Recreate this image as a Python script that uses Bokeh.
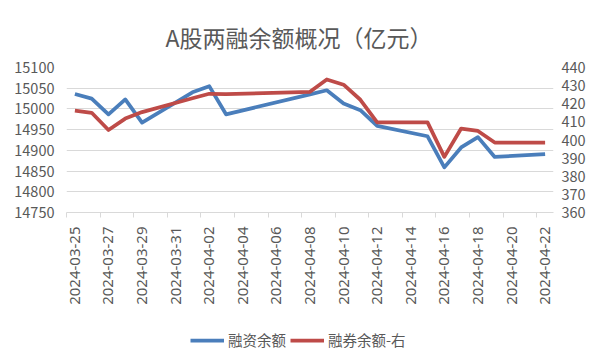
import math
import pandas as pd
from bokeh.plotting import figure
from bokeh.layouts import column
from bokeh.models import (Range1d, LinearAxis, FixedTicker, DatetimeTickFormatter,
                          Legend, LegendItem, ColumnDataSource)
from bokeh.embed import file_html
from bokeh.resources import INLINE

# ---- data ----
dates = ["2024-03-25", "2024-03-26", "2024-03-27", "2024-03-28", "2024-03-29",
         "2024-04-01", "2024-04-02", "2024-04-03", "2024-04-08", "2024-04-09",
         "2024-04-10", "2024-04-11", "2024-04-12", "2024-04-15", "2024-04-16",
         "2024-04-17", "2024-04-18", "2024-04-19", "2024-04-22"]
margin_balance = [15036, 15025, 14987, 15023, 14967,
                  15040, 15055, 14987, 15035, 15045,
                  15013, 14997, 14959, 14934, 14859,
                  14907, 14932, 14884, 14891]
short_balance = [416.2, 415.0, 405.5, 411.8, 415.4,
                 423.0, 425.5, 425.3, 426.6, 433.4,
                 430.5, 422.2, 409.7, 409.7, 390.7,
                 406.3, 405.0, 398.6, 398.6]
tick_labels = ["2024-03-25", "2024-03-27", "2024-03-29", "2024-03-31", "2024-04-02",
               "2024-04-04", "2024-04-06", "2024-04-08", "2024-04-10", "2024-04-12",
               "2024-04-14", "2024-04-16", "2024-04-18", "2024-04-20", "2024-04-22"]
left_ticks = [14750, 14800, 14850, 14900, 14950, 15000, 15050, 15100]
right_ticks = [360, 370, 380, 390, 400, 410, 420, 430, 440]
title_text = "A股两融余额概况（亿元）"
series_names = ["融资余额", "融券余额-右"]

FONT = "Noto Sans CJK SC"
LATIN = "Noto Sans"
TXT = "#595959"
GRID = "#D9D9D9"
BLUE = "#4A7EBB"
RED = "#BE4B48"
FS = "14.5px"
W = 601

HALF_DAY = pd.Timedelta(hours=12)
x = pd.to_datetime(dates) + HALF_DAY
src = ColumnDataSource(dict(x=x, rz=margin_balance, rq=short_balance))

x_start = pd.Timestamp(tick_labels[0])
x_end = pd.Timestamp(dates[-1]) + pd.Timedelta(days=1)

p = figure(x_axis_type="datetime", output_backend="svg", toolbar_location=None,
           frame_width=487, frame_height=145,
           min_border_left=66, min_border_right=W - 66 - 487, min_border_top=67,
           min_border_bottom=110,
           x_range=Range1d(x_start, x_end),
           y_range=Range1d(left_ticks[0], left_ticks[-1]))
p.outline_line_color = None
p.background_fill_color = "white"
p.border_fill_color = "white"

p.title.text = title_text
p.title.align = "left"
p.title.offset = 99
p.title.text_font = FONT
p.title.text_font_size = "23px"
p.title.text_font_style = "normal"
p.title.text_color = TXT
p.title.standoff = 28

p.extra_y_ranges = {"right": Range1d(right_ticks[0], right_ticks[-1])}

r1 = p.line("x", "rz", source=src, line_color=BLUE, line_width=3.75, line_join="round")
r2 = p.line("x", "rq", source=src, line_color=RED, line_width=3.75, line_join="round",
            y_range_name="right")

# x axis: labels centred on each day, tick marks at day boundaries
tick_days = [pd.Timestamp(t) for t in tick_labels]
xa = p.xaxis[0]
xa.ticker = FixedTicker(ticks=[(t + HALF_DAY).value // 10**6 for t in tick_days],
                        minor_ticks=[t.value // 10**6 for t in tick_days])
fmt = "%Y-%m-%d"
xa.formatter = DatetimeTickFormatter(days=fmt, months=fmt, years=fmt, hours=fmt,
                                     hourmin=fmt, minutes=fmt)
xa.major_label_orientation = math.pi / 2
xa.major_label_text_font = LATIN
xa.major_label_text_font_size = "15px"
xa.major_label_text_color = TXT
xa.major_label_standoff = 9
xa.axis_line_color = GRID
xa.major_tick_line_color = None
xa.major_tick_out = 0
xa.major_tick_in = 0
xa.minor_tick_line_color = GRID
xa.minor_tick_out = 5
xa.minor_tick_in = 0

# left axis
ya = p.yaxis[0]
ya.ticker = FixedTicker(ticks=left_ticks)
ya.axis_line_color = None
ya.major_tick_line_color = None
ya.minor_tick_line_color = None
ya.major_tick_out = 0
ya.major_tick_in = 0
ya.major_label_text_font = FONT
ya.major_label_text_font_size = FS
ya.major_label_text_color = TXT
ya.major_label_standoff = 12

# right axis
ra = LinearAxis(y_range_name="right", ticker=FixedTicker(ticks=right_ticks))
ra.axis_line_color = None
ra.major_tick_line_color = None
ra.minor_tick_line_color = None
ra.major_tick_out = 0
ra.major_tick_in = 0
ra.major_label_text_font = FONT
ra.major_label_text_font_size = FS
ra.major_label_text_color = TXT
ra.major_label_standoff = 8
p.add_layout(ra, "right")

p.xgrid.grid_line_color = None
p.ygrid.grid_line_color = GRID
p.ygrid.ticker = FixedTicker(ticks=left_ticks)

# ---- legend strip below the chart (series drawn off-frame, only the key shows) ----
LEG_H = 38
pl = figure(width=W, height=LEG_H, output_backend="svg", toolbar_location=None,
            x_axis_location=None, y_axis_location=None, min_border=0,
            x_range=Range1d(0, 1), y_range=Range1d(0, 1))
pl.outline_line_color = None
pl.grid.visible = False
pl.background_fill_color = "white"
pl.border_fill_color = "white"
g1 = pl.line("x", "rz", source=src, line_color=BLUE, line_width=3.75)
g2 = pl.line("x", "rq", source=src, line_color=RED, line_width=3.75)

legend = Legend(items=[LegendItem(label=series_names[0], renderers=[g1]),
                       LegendItem(label=series_names[1], renderers=[g2])],
                orientation="horizontal", location=(124, LEG_H - 8 - 20),
                border_line_color=None, background_fill_alpha=0,
                label_text_font=FONT, label_text_font_size=FS, label_text_color=TXT,
                glyph_width=34, glyph_height=20, label_height=20,
                label_standoff=4, spacing=4, padding=0, margin=0)
pl.add_layout(legend, "center")

layout = column(p, pl, spacing=0)
open("out.html", "w").write(file_html(layout, INLINE))
